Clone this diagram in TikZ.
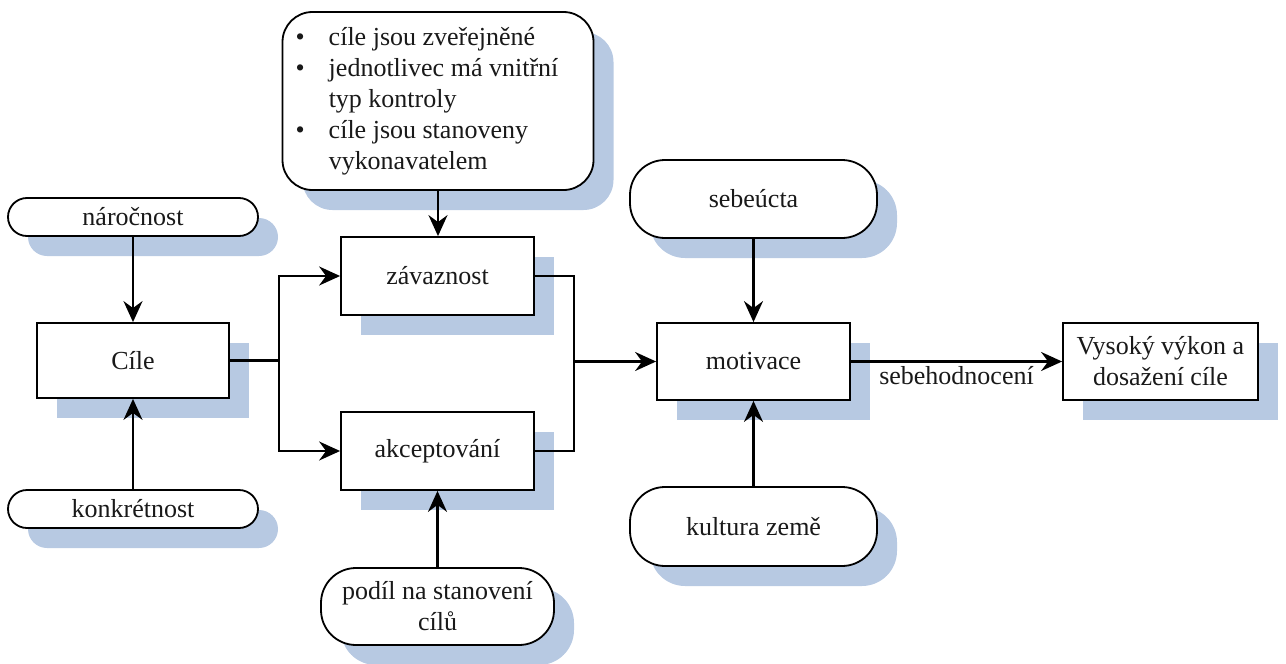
\documentclass[tikz,border=0pt]{standalone}
\usepackage{fontspec}
\setmainfont{Liberation Serif}
\usetikzlibrary{arrows.meta,shadows}
\definecolor{shade}{RGB}{183,201,226}
\begin{document}
\begin{tikzpicture}[x=1pt,y=-1pt,
  every node/.style={font=\fontsize{26}{31}\selectfont, text=black!90},
  box/.style={draw, line width=1.8pt, fill=white, inner sep=0pt, align=center,
    drop shadow={shadow xshift=20pt, shadow yshift=-20pt, fill=shade, opacity=1}},
  pill/.style={box, rounded corners=#1},
  link/.style={line width=2.5pt},
  arr/.style={link, -{Stealth[length=21pt,width=19pt,inset=7pt]}}
]
\useasboundingbox (0,0) rectangle (1286,664);

% goal inputs
\node[pill=19pt, minimum width=250pt, minimum height=38pt] (naro) at (133,217) {náročnost};
\node[box, minimum width=192pt, minimum height=75pt] (cile) at (133,360.5) {Cíle};
\node[pill=19pt, minimum width=250pt, minimum height=38pt] (konk) at (133,509) {konkrétnost};

% commitment conditions
\node[pill=30pt, minimum width=311pt, minimum height=178pt] (bul) at (438,101) {%
  \raisebox{-3pt}{\begin{tabular}{@{}l@{\hspace{24pt}}l@{}}
  \textbullet & cíle jsou zveřejněné\\
  \textbullet & jednotlivec má vnitřní\\
              & typ kontroly\\
  \textbullet & cíle jsou stanoveny\\
              & vykonavatelem
  \end{tabular}}\hspace{22pt}};

\node[box, minimum width=193pt, minimum height=78pt] (zav) at (437.5,276) {závaznost};
\node[box, minimum width=193pt, minimum height=78pt] (akc) at (437.5,451) {akceptování};
\node[pill=35pt, minimum width=233pt, minimum height=77pt] (podil) at (437.5,606.5) {podíl na stanovení\\cílů};

% motivation and outcome
\node[pill=35pt, minimum width=247pt, minimum height=78pt] (sebe) at (753.5,199) {sebeúcta};
\node[box, minimum width=193pt, minimum height=77pt] (mot) at (753.5,361.5) {motivace};
\node[pill=35pt, minimum width=247pt, minimum height=79pt] (kult) at (753.5,526.5) {kultura země};
\node[box, minimum width=195pt, minimum height=77pt] (vys) at (1160.5,361.5) {Vysoký výkon a\\dosažení cíle};

% connectors
\draw[arr] (naro.south) -- (cile.north);
\draw[arr] (konk.north) -- (cile.south);
\draw[arr] (bul.south) -- (bul.south |- zav.north);
\draw[arr] (podil.north) -- (akc.south);

\coordinate (fl) at (279,360.5);
\draw[link] (cile.east) -- (fl);
\draw[arr] (fl) |- (zav.west);
\draw[arr] (fl) |- (akc.west);

\coordinate (fr) at (574,361.5);
\draw[link] (zav.east) -| (fr);
\draw[link] (akc.east) -| (fr);
\draw[arr] (fr) -- (mot.west);

\draw[arr] (sebe.south) -- (mot.north);
\draw[arr] (kult.north) -- (mot.south);
\draw[arr] (mot.east) -- node[below] {sebehodnocení} (vys.west);
\end{tikzpicture}
\end{document}
